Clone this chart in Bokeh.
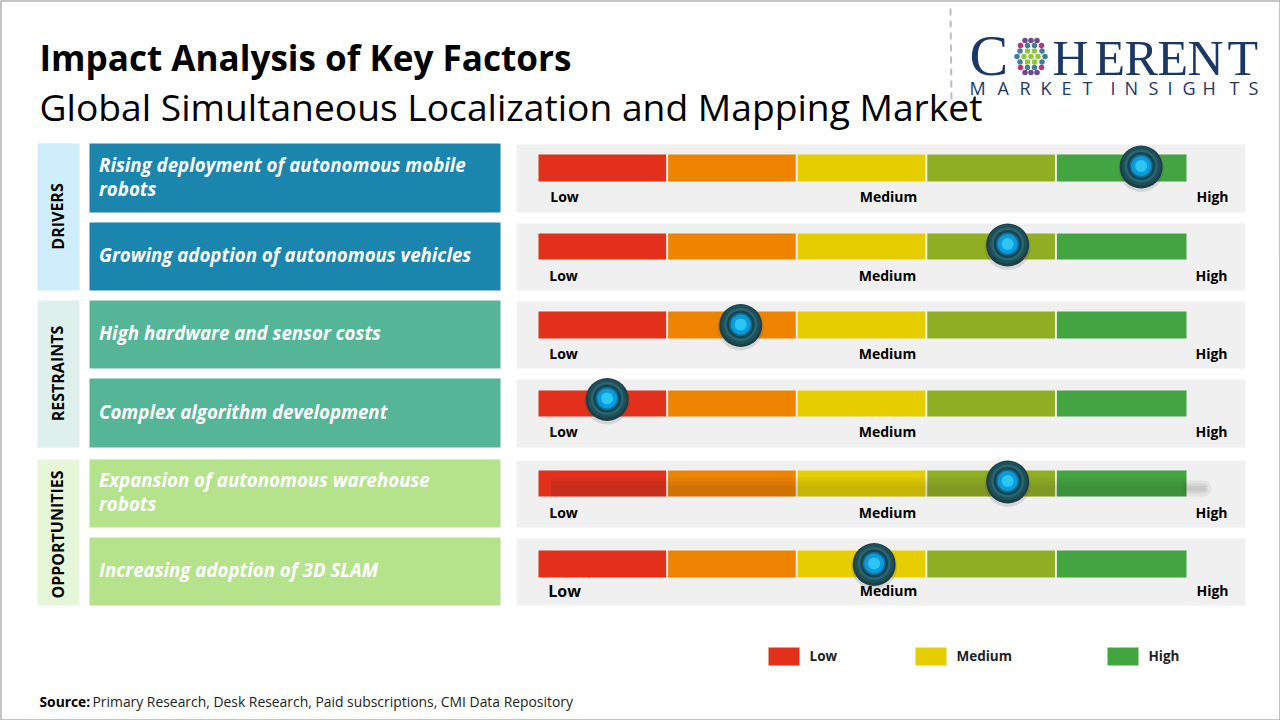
from bokeh.core.properties import value
from bokeh.embed import file_html
from bokeh.models import Range1d
from bokeh.plotting import figure
from bokeh.resources import INLINE

# data
groups = ["DRIVERS", "RESTRAINTS", "OPPORTUNITIES"]
factors = [
    ["Rising deployment of autonomous mobile", "robots"],
    ["Growing adoption of autonomous vehicles"],
    ["High hardware and sensor costs"],
    ["Complex algorithm development"],
    ["Expansion of autonomous warehouse", "robots"],
    ["Increasing adoption of 3D SLAM"],
]
scores = [4.65, 3.62, 1.56, 0.53, 3.62, 2.59]  # position on the 0-5 scale
segments = [0, 1, 2, 3, 4]
scale_labels = ["Low", "Medium", "High"]

# layout, in pixels of the reference picture
row_top = [143, 222, 300, 378, 459, 537]
row_bottom = [212, 290, 368, 447, 527, 605]
bar_top = [154, 233, 311, 390, 470, 550]
bar_bottom = [181, 259, 338, 416, 496, 577]
marker_y = [165.5, 243.5, 324, 398, 480.5, 563]
label_y = [196, 275, 353, 431, 512, 590]
label_dx = [0, -1, -1, -1, -1, 0]
group_top = [143, 300, 459]
group_bottom = [290, 447, 605]
group_y = [216, 373, 534]

seg_colors = ["#E2301B", "#EE8300", "#E5CD00", "#90AE22", "#43A541"]
box_colors = ["#1A86AD", "#1A86AD", "#55B697", "#55B697", "#B5E38C", "#B5E38C"]
group_colors = ["#CFEEFB", "#DDF0EB", "#E5F7D8"]
FONT = value("Open Sans")
NAVY = "#1B3766"

BAR_X0, SEG_W = 538, 129.6

p = figure(width=1280, height=720, x_range=(0, 1280), y_range=(720, 0),
           output_backend="svg", toolbar_location=None, min_border=0,
           outline_line_color=None)
p.axis.visible = False
p.grid.visible = False
p.extra_x_ranges["impact"] = Range1d((0 - BAR_X0) / SEG_W, (1280 - BAR_X0) / SEG_W)


def txt(x, y, s, size, color="#000000", style="normal", align="left", angle=0, font=FONT):
    p.text(x=[x], y=[y], text=[s], text_font=font, text_font_size=f"{size}px",
           text_font_style=style, text_color=color, text_align=align,
           text_baseline="middle", angle=angle)


# picture frame
p.quad(left=[0], right=[1280], top=[0], bottom=[720], fill_color=None,
       line_color="#8A8A8A", line_width=2)

# header
p.segment(x0=[950], y0=[8], x1=[951], y1=[100], line_color="#BDBDBD", line_width=2, line_dash="7 5")
txt(39, 56, "Impact Analysis of Key Factors", 35.1, style="bold")
txt(39, 106, "Global Simultaneous Localization and Mapping Market", 37.2)

# logo
serif = value("Liberation Serif")
txt(969, 55, "C", 58, NAVY, font=serif)
for ch, x in zip("HERENT", [1052, 1094, 1124, 1157, 1187, 1227]):
    txt(x, 57, ch, 50, NAVY, font=serif)
ins_x = [969, 997, 1019, 1040, 1061, 1082, 0, 1110, 1124, 1148, 1167, 1182, 1202, 1229, 1248]
for ch, x in zip("MARKET INSIGHTS", ins_x):
    if ch != " ":
        txt(x, 87, ch, 18, NAVY)
# globe dots
dot_rows = [
    (-16, [-6, 0, 6], "#6C4A86"),
    (-11, [-10.5, 10.5], "#C2307A"),
    (-11, [-3.5, 3.5], "#3E7F9A"),
    (-5.5, [-11, 11], "#3E7F9A"),
    (-5.5, [-3.5, 3.5], "#8DC63F"),
    (0, [-14, 14], "#3E7F9A"),
    (0, [-7, 0, 7], "#8DC63F"),
    (5.5, [-11, 11], "#3E7F9A"),
    (5.5, [-3.5, 3.5], "#8DC63F"),
    (11, [-10.5, 10.5], "#C2307A"),
    (11, [-3.5, 3.5], "#3E7F9A"),
    (16, [-6, 0, 6], "#6C4A86"),
]
for dy, dxs, col in dot_rows:
    p.scatter(x=[1030.5 + d for d in dxs], y=[56 + dy] * len(dxs), size=5.5,
              fill_color=col, line_color=None)

# group boxes
p.quad(left=[37] * 3, right=[79] * 3, top=group_top, bottom=group_bottom,
       fill_color=group_colors, line_color=None)
for g, y in zip(groups, group_y):
    txt(57, y, g, 16, style="bold", align="center", angle=1.5708)

# factor boxes and grey panels
p.quad(left=[89] * 6, right=[500] * 6, top=row_top, bottom=row_bottom,
       fill_color=box_colors, line_color=None)
p.quad(left=[516] * 6, right=[1245] * 6, top=[t + 1 for t in row_top], bottom=row_bottom,
       fill_color="#F0F0F0", line_color=None)

for i, lines in enumerate(factors):
    mid = (row_top[i] + row_bottom[i]) / 2 - 2
    for k, s in enumerate(lines):
        y = mid + (k - (len(lines) - 1) / 2) * 24
        txt(98.5, y, s, 18.7, "#FFFFFF", style="bold italic")

    # impact scale
    p.quad(left=segments, right=[s + 0.985 for s in segments[:-1]] + [5],
           top=[bar_top[i]] * 5, bottom=[bar_bottom[i]] * 5,
           fill_color=seg_colors, line_color=None, x_range_name="impact")
    for s, x in zip(scale_labels, [564, 888, 1212]):
        size = 16 if i == 5 and s == "Low" else 14
        txt(x + label_dx[i], label_y[i], s, size, style="bold", align="center")

# blurred stray shadow on the expansion row
for t, a in zip([477, 481, 485], [0.05, 0.05, 0.05]):
    p.quad(left=[0.1], right=[5], top=[t], bottom=[bar_bottom[4]], fill_color="#222222",
           fill_alpha=a, line_color=None, x_range_name="impact")
for w, a in zip([16, 10, 5], [0.08, 0.08, 0.08]):
    p.line(x=[5.02, 5.13], y=[bar_top[4] + 18] * 2, line_color="#444444", line_width=w,
           line_alpha=a, line_cap="round", x_range_name="impact")

# markers
for s, y in zip(scores, marker_y):
    for r, col, a, dy in [(46, "#444444", 0.15, 3), (43, "#1B3F46", 1, 1), (39, "#1F4F59", 1, 0),
                          (33, "#296670", 1, 0), (28, "#154552", 1, 0), (23, "#0F6F96", 1, 0),
                          (20, "#0C9ADB", 1, 0), (12, "#2CC6F5", 1, 0)]:
        p.scatter(x=[s], y=[y + dy], size=r, fill_color=col, fill_alpha=a, line_color=None,
                  x_range_name="impact")

# legend
for x0, col, s in zip([768, 915, 1107], [seg_colors[0], seg_colors[2], seg_colors[4]], scale_labels):
    p.quad(left=[x0], right=[x0 + 31], top=[647], bottom=[665], fill_color=col, line_color=None)
    txt(x0 + 41, 655, s, 13.5, "#222222", style="bold")

# source
txt(39, 701, "Source:", 13.8, style="bold")
txt(92, 701, "Primary Research, Desk Research, Paid subscriptions, CMI Data Repository", 13.9, "#222222")

open("out.html", "w").write(file_html(p, INLINE))
